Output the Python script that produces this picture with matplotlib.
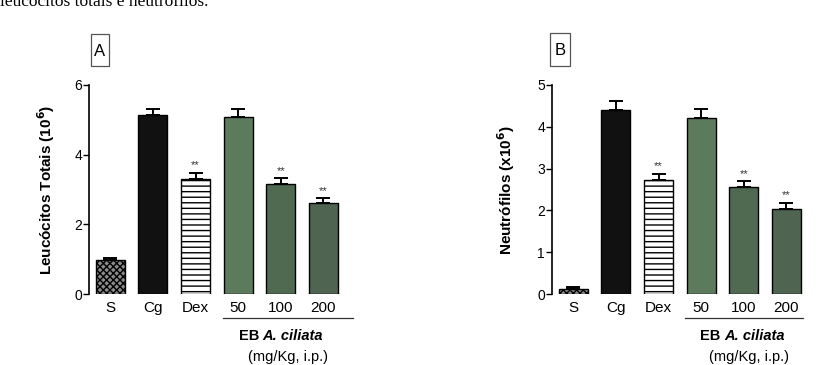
import numpy as np
import matplotlib.pyplot as plt
from matplotlib.lines import Line2D
from matplotlib.patches import Rectangle

plt.rcParams['font.family'] = ['Liberation Sans', 'DejaVu Sans']
plt.rcParams['hatch.linewidth'] = 1.0

# Data
groups = ["S", "Cg", "Dex", "50", "100", "200"]
leuco_mean = [0.98, 5.13, 3.29, 5.09, 3.16, 2.60]
leuco_err = [0.05, 0.17, 0.19, 0.22, 0.16, 0.15]
leuco_sig = ["", "", "**", "", "**", "**"]
neut_mean = [0.13, 4.40, 2.72, 4.21, 2.56, 2.04]
neut_err = [0.03, 0.22, 0.16, 0.21, 0.14, 0.14]
neut_sig = ["", "", "**", "", "**", "**"]

colors = ["#8a8a8a", "#111111", "white", "#5b7b5c", "#506a52", "#4f6451"]
hatches = ["xxxxx", None, "---", None, None, None]

W, H = 817, 365
fig = plt.figure(figsize=(W / 100, H / 100), dpi=100)

def px(x, y):
    return x / W, 1 - y / H

# caption fragment cut off at the top
fig.text(0, 1 - 6 / H, "leucócitos totais e neutrófilos.", family="Liberation Serif",
         fontsize=12.5, va="baseline", ha="left")

def panel(left, ymax, yticks, means, errs, sig, ylabel, letter, box, ylabel_x):
    x = np.arange(len(groups))
    unit = 42.6
    x0 = -0.5
    x1 = 5.45
    ax = fig.add_axes([left / W, (H - 294) / H, (x1 - x0) * unit / W, 209 / H])
    for i in range(len(groups)):
        ax.bar(x[i], means[i], width=0.68, color=colors[i], edgecolor="black",
               linewidth=1.0, hatch=hatches[i], zorder=2)
    ax.errorbar(x, means, yerr=[np.zeros(len(x)), errs], fmt="none", ecolor="black",
                elinewidth=1.4, capsize=5, capthick=1.4, zorder=3)
    for i, s in enumerate(sig):
        if s:
            ax.text(x[i], means[i] + errs[i] + ymax * 0.012, s, ha="center", va="bottom",
                    fontsize=8, color="#333333")
    ax.set_xlim(x0, x1)
    ax.set_ylim(0, ymax)
    ax.set_yticks(yticks)
    ax.set_xticks(x)
    ax.set_xticklabels(groups, fontsize=11)
    ax.tick_params(axis="x", length=0, pad=5)
    ax.tick_params(axis="y", length=4, width=1, labelsize=10, pad=1)
    for s in ["top", "right", "bottom"]:
        ax.spines[s].set_visible(False)
    ax.spines["left"].set_linewidth(1.2)
    ax.patch.set_alpha(0)
    fig.text(*px(ylabel_x, 190), ylabel, rotation=90, ha="center", va="center",
             fontsize=11, fontweight="bold")
    bx0, by0, bx1, by1 = box
    fig.add_artist(Rectangle(px(bx0, by1), (bx1 - bx0) / W, (by1 - by0) / H,
                             fill=False, ec="#555555", lw=0.9))
    fig.text(*px((bx0 + bx1) / 2, (by0 + by1) / 2 + 1), letter, ha="center", va="center",
             fontsize=12)
    return ax

panel(89, 6, [0, 2, 4, 6], leuco_mean, leuco_err, leuco_sig,
      "Leucócitos Totais (10$^{\\mathbf{6}}$)", "A", (91, 34, 109, 66), 46)
panel(552, 5, [0, 1, 2, 3, 4, 5], neut_mean, neut_err, neut_sig,
      "Neutrófilos (x10$^{\\mathbf{6}}$)", "B", (550, 33, 570, 66), 506)

def group_label(xa, xb, eb_right, cil_left, center):
    fig.add_artist(Line2D([xa / W, xb / W], [1 - 318 / H] * 2, color="#333333", lw=0.9))
    fig.text(*px(eb_right, 336), "EB", ha="right", va="center", fontsize=10.5, fontweight="bold")
    fig.text(*px(cil_left, 336), "A. ciliata", ha="left", va="center", fontsize=10.5,
             fontweight="bold", style="italic")
    fig.text(*px(center, 357), "(mg/Kg, i.p.)", ha="center", va="center", fontsize=10.5)

group_label(223, 353, 259, 262, 288)
group_label(685, 803, 720, 724, 749)

fig.savefig("out.png", dpi=100)
